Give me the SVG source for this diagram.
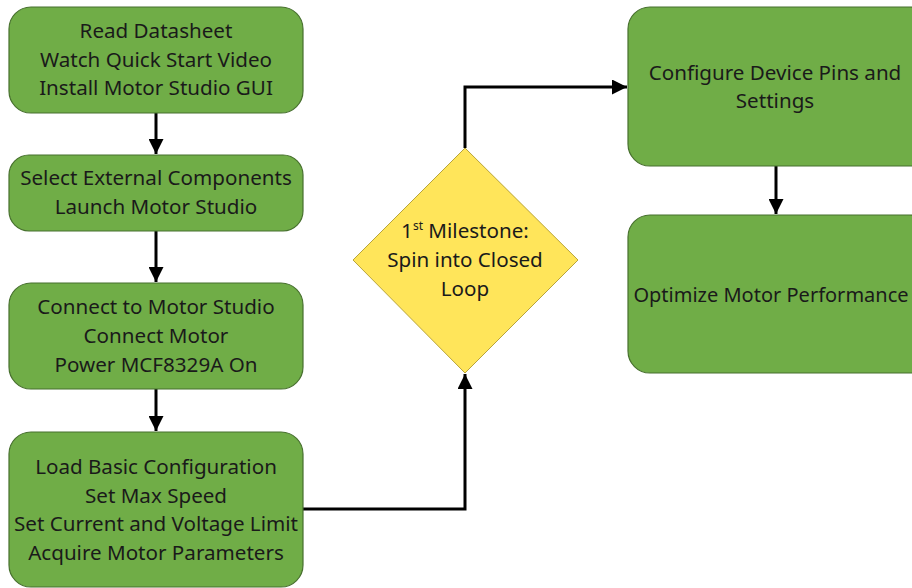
<svg xmlns="http://www.w3.org/2000/svg" width="912" height="588" viewBox="0 0 912 588">
<defs>
<marker id="ah" viewBox="0 0 10 10" refX="10" refY="5" markerWidth="5" markerHeight="5" orient="auto" markerUnits="strokeWidth"><path d="M0,0 L10,5 L0,10 z" fill="#000"/></marker>
<style>
.box{fill:#70AD47;stroke:#47702E;stroke-width:1.2}
.dia{fill:#FFE55A;stroke:#B8A43A;stroke-width:1}
.t{font-family:"Noto Sans","Open Sans",sans-serif;font-size:20.6px;fill:#1a1a1a;text-anchor:middle}
.c{fill:none;stroke:#000;stroke-width:3;marker-end:url(#ah)}
</style>
</defs>
<rect width="912" height="588" fill="#fff"/>
<g id="connectors">
<path class="c" d="M156,113 V154"/>
<path class="c" d="M156,231 V282"/>
<path class="c" d="M156,389 V431"/>
<path class="c" d="M303,509 H465 V374"/>
<path class="c" d="M465,148 V87 H627"/>
<path class="c" d="M776,166 V214"/>
</g>
<g id="n1"><rect class="box" x="9" y="7" width="294" height="106" rx="22"/>
<text class="t" x="156" y="38">Read Datasheet</text><text class="t" x="156" y="67">Watch Quick Start Video</text><text class="t" x="156" y="95">Install Motor Studio GUI</text></g>
<g id="n2"><rect class="box" x="9" y="155" width="294" height="76" rx="20"/>
<text class="t" x="156" y="185">Select External Components</text><text class="t" x="156" y="214">Launch Motor Studio</text></g>
<g id="n3"><rect class="box" x="9" y="283" width="294" height="106" rx="22"/>
<text class="t" x="156" y="314">Connect to Motor Studio</text><text class="t" x="156" y="343">Connect Motor</text><text class="t" x="156" y="372">Power MCF8329A On</text></g>
<g id="n4"><rect class="box" x="9" y="432" width="294" height="155" rx="22"/>
<text class="t" x="156" y="474">Load Basic Configuration</text><text class="t" x="156" y="503">Set Max Speed</text><text class="t" x="156" y="531">Set Current and Voltage Limit</text><text class="t" x="156" y="560">Acquire Motor Parameters</text></g>
<g id="n5"><path class="dia" d="M465,148 L578,260 L465,373 L353,260 Z"/>
<text class="t" x="465" y="238">1<tspan font-size="12" dy="-8">st</tspan><tspan dy="8"> Milestone:</tspan></text><text class="t" x="465" y="267">Spin into Closed</text><text class="t" x="465" y="296">Loop</text></g>
<g id="n6"><rect class="box" x="628" y="7" width="304" height="159" rx="22"/>
<text class="t" x="775" y="80">Configure Device Pins and</text><text class="t" x="775" y="108">Settings</text></g>
<g id="n7"><rect class="box" x="628" y="215" width="304" height="158" rx="22"/>
<text class="t" x="771" y="302" style="font-size:20px">Optimize Motor Performance</text></g>
</svg>
